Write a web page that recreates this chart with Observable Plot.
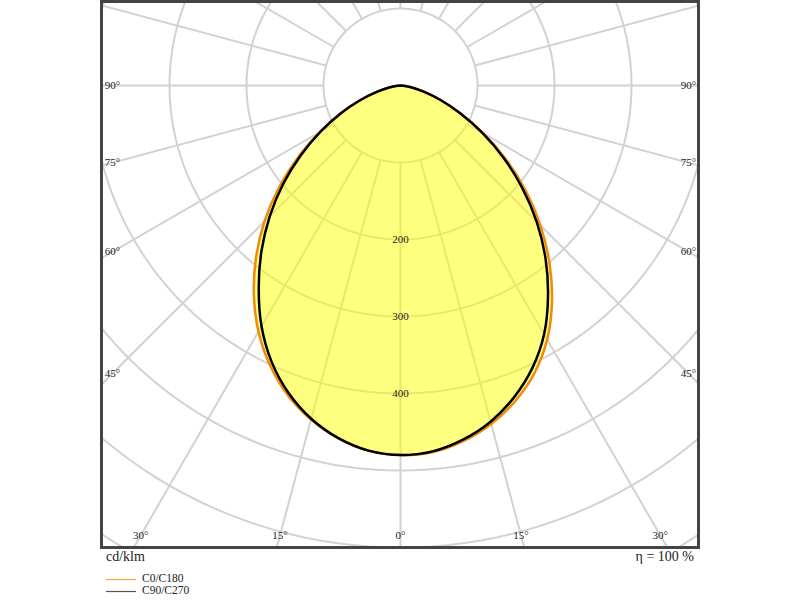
<!DOCTYPE html>
<html>
<head>
<meta charset="utf-8">
<script src="https://cdn.jsdelivr.net/npm/d3@7"></script>
<script src="https://cdn.jsdelivr.net/npm/@observablehq/plot@0.6"></script>
<style>
  body { margin: 0; background: #fff; font-family: "Liberation Serif", "Times New Roman", serif; color: #222; }
  #wrap { position: relative; width: 800px; height: 600px; }
  #chart { position: absolute; left: 0; top: 0; }
  .lbl { position: absolute; font-size: 14px; line-height: 16px; white-space: nowrap; }
  .leg { position: absolute; left: 106px; font-size: 11.5px; line-height: 12px; white-space: nowrap; }
  .leg svg { vertical-align: middle; margin-right: 6px; }
</style>
</head>
<body>
<div id="wrap">
  <div id="chart"></div>
  <div class="lbl" style="left:106px; top:549px;">cd/klm</div>
  <div class="lbl" style="right:106px; top:549px;">η = 100 %</div>
  <div class="leg" style="top:572px;"><svg width="30" height="3"><line x1="0" x2="30" y1="1.5" y2="1.5" stroke="#f5a23c" stroke-width="1.2"/></svg>C0/C180</div>
  <div class="leg" style="top:584px;"><svg width="30" height="3"><line x1="0" x2="30" y1="1.5" y2="1.5" stroke="#555" stroke-width="1.2"/></svg>C90/C270</div>
</div>
<script>
// gamma angles (degrees from nadir)
const gammas = [0, 5, 10, 15, 20, 25, 30, 35, 40, 45, 50, 55, 60, 65, 70, 75, 80, 85, 90];
// cd/klm
const c270 = [480, 476, 465, 448, 425, 396, 361, 321, 281, 240, 199, 158, 120, 86, 56, 32, 15, 4, 0]; // left black
const c90  = [480, 477, 467, 452, 431, 405, 373, 334, 293, 250, 206, 163, 122, 86, 56, 32, 15, 4, 0]; // right black
const c180 = [480, 476, 465, 449, 428, 401, 369, 332, 292, 250, 206, 162, 120, 85, 55, 31, 14, 4, 0]; // left orange
const c0   = [480, 478, 469, 455, 436, 412, 381, 343, 301, 257, 212, 167, 124, 86, 55, 31, 14, 4, 0]; // right orange

const gridRadii = [100, 200, 300, 400, 500, 600, 700];
const radialAngles = d3.range(0, 360, 15);
const valueLabels = [200, 300, 400];
const sideLabelAngles = [90, 75, 60, 45];
const bottomLabelAngles = [-30, -15, 0, 15, 30];

const rad = d => d * Math.PI / 180;

// polygon: left half from 90 -> 0, right half 0 -> 90
function poly(left, right) {
  const pts = [];
  for (let i = gammas.length - 1; i >= 0; i--) {
    const g = rad(gammas[i]);
    pts.push({x: -left[i] * Math.sin(g), y: -left[i] * Math.cos(g)});
  }
  for (let i = 1; i < gammas.length; i++) {
    const g = rad(gammas[i]);
    pts.push({x: right[i] * Math.sin(g), y: -right[i] * Math.cos(g)});
  }
  return pts;
}
const polyC0 = poly(c180, c0);
const polyC90 = poly(c270, c90);

const circles = [];
for (const r of gridRadii) {
  for (let a = 0; a <= 360; a += 2) {
    circles.push({r, x: r * Math.sin(rad(a)), y: -r * Math.cos(rad(a))});
  }
}
const radials = radialAngles.map(a => ({
  x1: 100 * Math.sin(rad(a)), y1: -100 * Math.cos(rad(a)),
  x2: 1000 * Math.sin(rad(a)), y2: -1000 * Math.cos(rad(a))
}));

const K = 0.77; // px per cd/klm
const sideX = (400 - 112) / K;
const sideLabels = [];
for (const a of sideLabelAngles) {
  const y = a === 90 ? 0 : -sideX / Math.tan(rad(a));
  sideLabels.push({x: -sideX, y, t: a + "°"});
  sideLabels.push({x: sideX, y, t: a + "°"});
}
const bottomY = -(535 - 85) / K;
const bottomLabels = bottomLabelAngles.map(a => ({
  x: -bottomY * Math.tan(rad(a)), y: bottomY, t: Math.abs(a) + "°"
}));

const chart = Plot.plot({
  width: 800,
  height: 549,
  marginLeft: 101,
  marginRight: 102,
  marginTop: 1,
  marginBottom: 2,
  x: {domain: [-299 / K, 298 / K], axis: null},
  y: {domain: [-462 / K, 84 / K], axis: null},
  style: {fontFamily: "Liberation Serif, Times New Roman, serif", background: "#fff"},
  marks: [
    Plot.line(circles, {x: "x", y: "y", z: "r", stroke: "#d2d2d2", strokeWidth: 2, clip: true}),
    Plot.link(radials, {x1: "x1", y1: "y1", x2: "x2", y2: "y2", stroke: "#d2d2d2", strokeWidth: 2, clip: true}),
    Plot.line(polyC0, {x: "x", y: "y", fill: "#ffff00", fillOpacity: 0.5, stroke: "none", curve: "catmull-rom"}),
    Plot.line(polyC0, {x: "x", y: "y", stroke: "#f08a0c", strokeWidth: 2.5, curve: "catmull-rom"}),
    Plot.line(polyC90, {x: "x", y: "y", stroke: "#000", strokeWidth: 2.5, curve: "catmull-rom"}),
    Plot.text(valueLabels, {x: 0, y: d => -d, text: d => String(d), fontSize: 11, fill: "#222"}),
    Plot.text(sideLabels, {x: "x", y: "y", text: "t", fontSize: 11, fill: "#222"}),
    Plot.text(bottomLabels, {x: "x", y: "y", text: "t", fontSize: 11, fill: "#222"}),
    Plot.frame({stroke: "#444", strokeWidth: 3})
  ]
});
document.getElementById("chart").appendChild(chart);
</script>
</body>
</html>
